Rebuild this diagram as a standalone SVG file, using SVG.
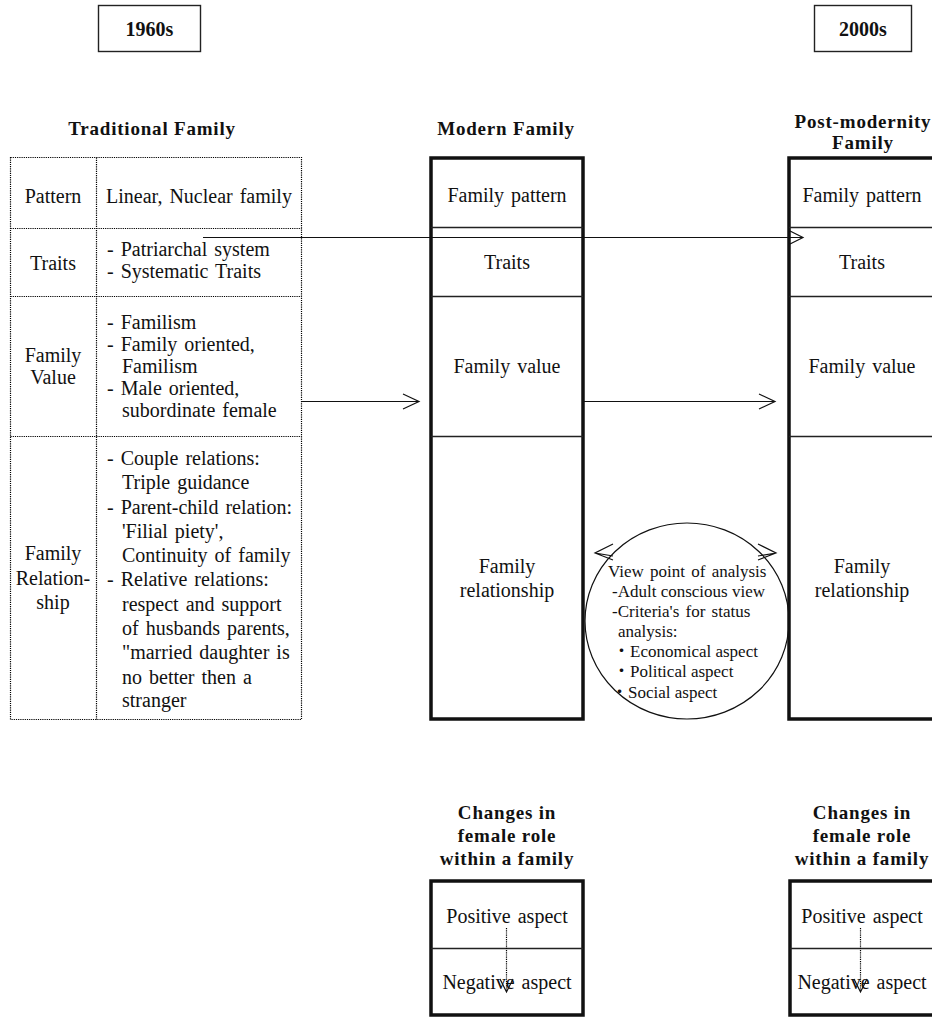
<svg xmlns="http://www.w3.org/2000/svg" width="932" height="1017" viewBox="0 0 932 1017">
<style>
text{font-family:"Liberation Serif","Times New Roman","Noto Sans CJK JP",serif;fill:#111}
.t{font-size:20px}
.tc{font-size:20px;text-anchor:middle}
.ws{word-spacing:2px}
.h{font-size:19px;font-weight:bold;text-anchor:middle;letter-spacing:0.8px}
.yr{font-size:20px;font-weight:bold;text-anchor:middle}
.c{font-size:17px}
.dot{fill:none;stroke:#000;stroke-width:1.2;stroke-dasharray:1.2 1}
.thick{fill:none;stroke:#111;stroke-width:3.5}
.thin{fill:none;stroke:#222;stroke-width:1.4}
.ln{fill:none;stroke:#111;stroke-width:1.2}
.ah{fill:none;stroke:#111;stroke-width:1.2}
</style>
<g id="year-1960s">
<rect x="98.5" y="5.5" width="102" height="46" class="thin"/>
<text class="yr" x="149.5" y="36">1960s</text>
</g>
<g id="year-2000s">
<rect x="814.5" y="5.5" width="97" height="46" class="thin"/>
<text class="yr" x="863" y="36">2000s</text>
</g>
<g id="traditional-family">
<text class="h" x="152" y="135">Traditional Family</text>
<rect x="10.5" y="157.5" width="291" height="562" class="dot"/>
<line x1="96.5" y1="157.5" x2="96.5" y2="719.5" class="dot"/>
<line x1="10.5" y1="228.5" x2="301.5" y2="228.5" class="dot"/>
<line x1="10.5" y1="296.5" x2="301.5" y2="296.5" class="dot"/>
<line x1="10.5" y1="436.5" x2="301.5" y2="436.5" class="dot"/>
<text class="tc" x="53" y="203">Pattern</text>
<text class="tc" x="53" y="270">Traits</text>
<text class="tc" x="53" y="362">Family</text>
<text class="tc" x="53" y="384">Value</text>
<text class="tc" x="53" y="560">Family</text>
<text class="tc" x="53" y="585">Relation-</text>
<text class="tc" x="53" y="609">ship</text>
<text class="t ws" x="106" y="203">Linear, Nuclear family</text>
<text class="t ws" x="107" y="256">- Patriarchal system</text>
<text class="t ws" x="107" y="278">- Systematic Traits</text>
<text class="t ws" x="107" y="329">- Familism</text>
<text class="t ws" x="107" y="351">- Family oriented,</text>
<text class="t ws" x="122" y="373">Familism</text>
<text class="t ws" x="107" y="395">- Male oriented,</text>
<text class="t ws" x="122" y="417">subordinate female</text>
<text class="t ws" x="107" y="465">- Couple relations:</text>
<text class="t ws" x="122" y="489">Triple guidance</text>
<text class="t ws" x="107" y="514">- Parent-child relation:</text>
<text class="t ws" x="122" y="538">'Filial piety',</text>
<text class="t ws" x="122" y="562">Continuity of family</text>
<text class="t ws" x="107" y="586">- Relative relations:</text>
<text class="t ws" x="122" y="611">respect and support</text>
<text class="t ws" x="122" y="635">of husbands parents,</text>
<text class="t ws" x="122" y="659">"married daughter is</text>
<text class="t ws" x="122" y="684">no better then a</text>
<text class="t ws" x="122" y="707">stranger</text>
</g>
<g id="modern-family">
<text class="h" x="506" y="135">Modern Family</text>
<rect x="431" y="158" width="152" height="561" class="thick"/>
<line x1="431" y1="227.5" x2="583" y2="227.5" class="thin"/>
<line x1="431" y1="296.5" x2="583" y2="296.5" class="thin"/>
<line x1="431" y1="436.5" x2="583" y2="436.5" class="thin"/>
<text class="tc ws" x="507" y="202">Family pattern</text>
<text class="tc" x="507" y="269">Traits</text>
<text class="tc ws" x="507" y="373">Family value</text>
<text class="tc" x="507" y="573">Family</text>
<text class="tc" x="507" y="597">relationship</text>
</g>
<g id="post-modernity-family">
<text class="h" x="863" y="128">Post-modernity</text>
<text class="h" x="863" y="149">Family</text>
<rect x="789" y="158" width="152" height="561" class="thick"/>
<line x1="789" y1="227.5" x2="941" y2="227.5" class="thin"/>
<line x1="789" y1="296.5" x2="941" y2="296.5" class="thin"/>
<line x1="789" y1="436.5" x2="941" y2="436.5" class="thin"/>
<text class="tc ws" x="862" y="202">Family pattern</text>
<text class="tc" x="862" y="269">Traits</text>
<text class="tc ws" x="862" y="373">Family value</text>
<text class="tc" x="862" y="573">Family</text>
<text class="tc" x="862" y="597">relationship</text>
</g>
<g id="view-point">
<ellipse cx="687" cy="621" rx="102" ry="98" class="ln"/>
<text class="c ws" x="608" y="577">View point of analysis</text>
<text class="c" x="612" y="597">-Adult conscious view</text>
<text class="c ws" x="612" y="617">-Criteria's for status</text>
<text class="c" x="618" y="637">analysis:</text>
<text class="c"><tspan x="613" y="657">・</tspan><tspan x="630" y="657">Economical aspect</tspan></text>
<text class="c"><tspan x="613" y="677">・</tspan><tspan x="630" y="677">Political aspect</tspan></text>
<text class="c"><tspan x="611" y="698">・</tspan><tspan x="628" y="698">Social aspect</tspan></text>
</g>
<g id="female-role-modern">
<text class="h" x="507" y="819">Changes in</text>
<text class="h" x="507" y="842">female role</text>
<text class="h" x="507" y="865">within a family</text>
<rect x="431" y="881" width="152" height="134" class="thick"/>
<line x1="431" y1="948.5" x2="583" y2="948.5" class="thin"/>
<text class="tc ws" x="507" y="923">Positive aspect</text>
<text class="tc ws" x="507" y="989">Negative aspect</text>
</g>
<g id="female-role-post">
<text class="h" x="862" y="819">Changes in</text>
<text class="h" x="862" y="842">female role</text>
<text class="h" x="862" y="865">within a family</text>
<rect x="790" y="881" width="152" height="134" class="thick"/>
<line x1="790" y1="948.5" x2="942" y2="948.5" class="thin"/>
<text class="tc ws" x="862" y="923">Positive aspect</text>
<text class="tc ws" x="862" y="989">Negative aspect</text>
</g>
<g id="connectors">
<line x1="203" y1="237.5" x2="803" y2="237.5" class="ln"/>
<path d="M790,231 L803,237.5 L790,244" class="ah"/>
<line x1="302" y1="401.5" x2="419" y2="401.5" class="ln"/>
<path d="M403,394 L419,401.5 L403,409" class="ah"/>
<line x1="584" y1="401.5" x2="775" y2="401.5" class="ln"/>
<path d="M759,394 L775,401.5 L759,409" class="ah"/>
<path d="M613,544 L595,553 L613,560 M595,553 L613,556" class="ah"/>
<path d="M758,544 L776,553 L758,560 M776,553 L758,556" class="ah"/>
<line x1="506.5" y1="928" x2="506.5" y2="991" class="dot"/>
<path d="M500,979 L506.5,992 L513,979" class="ah"/>
<line x1="860.5" y1="928" x2="860.5" y2="991" class="dot"/>
<path d="M854,979 L860.5,992 L867,979" class="ah"/>
</g>
</svg>
